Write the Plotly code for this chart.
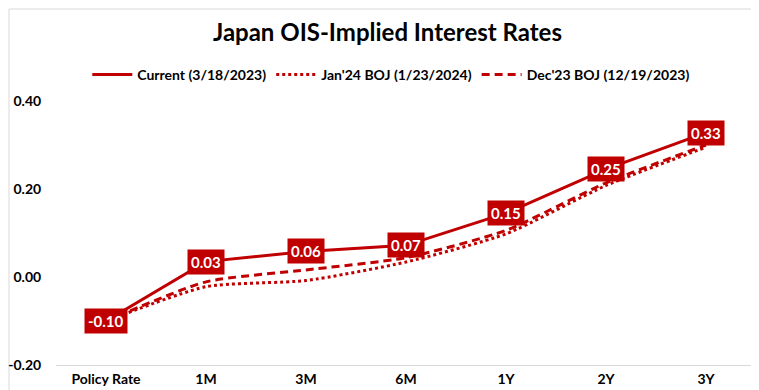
import plotly.graph_objects as go

categories = ["Policy Rate", "1M", "3M", "6M", "1Y", "2Y", "3Y"]
current = [-0.10, 0.035, 0.058, 0.072, 0.145, 0.245, 0.328]
jan24 = [-0.10, -0.022, -0.008, 0.034, 0.098, 0.208, 0.295]
dec23 = [-0.10, -0.011, 0.016, 0.044, 0.106, 0.214, 0.300]
current_labels = ["-0.10", "0.03", "0.06", "0.07", "0.15", "0.25", "0.33"]
y_ticks = [-0.20, 0.00, 0.20, 0.40]

RED = "#C00000"
FONT = "Lato"

W, H = 759, 390
L, R, T, B = 48, 11, 93, 33

fig = go.Figure()
fig.add_trace(go.Scatter(x=categories, y=current, mode="lines", name="<b>Current (3/18/2023)</b>",
                         line=dict(color=RED, width=3)))
fig.add_trace(go.Scatter(x=categories, y=jan24, mode="lines", name="<b>Jan'24 BOJ (1/23/2024)</b>",
                         line=dict(color=RED, width=3, dash="dot", shape="spline", smoothing=0.6)))
fig.add_trace(go.Scatter(x=categories, y=dec23, mode="lines", name="<b>Dec'23 BOJ (12/19/2023)</b>",
                         line=dict(color=RED, width=3, dash="8px,5px", shape="spline", smoothing=0.6)))

for c, v, t in zip(categories, current, current_labels):
    fig.add_annotation(x=c, y=v, xref="x", yref="y", text="<b>" + t + "</b>", showarrow=False,
                       bgcolor=RED, font=dict(color="white", size=15, family=FONT), borderpad=3)

pw = W - L - R
ph = H - T - B
fig.add_shape(type="rect", xref="paper", yref="paper",
              x0=-(L - 1) / pw, x1=1 + (R - 1) / pw, y0=-(B - 1) / ph, y1=1 + (T - 1) / ph,
              line=dict(color="#D9D9D9", width=1), fillcolor="rgba(0,0,0,0)", layer="below")

fig.update_layout(
    width=W, height=H,
    margin=dict(l=L, r=R, t=T, b=B, autoexpand=False),
    paper_bgcolor="white", plot_bgcolor="white",
    font=dict(family=FONT, color="black"),
    title=dict(text="<b>Japan OIS-Implied Interest Rates</b>", x=0.5, xanchor="center",
               y=1 - 25 / H, yanchor="middle", font=dict(size=24, family=FONT, color="black")),
    legend=dict(orientation="h", x=0.479, xanchor="center", y=1 + 26 / ph, yanchor="middle",
                font=dict(size=14, family=FONT, color="black"), itemwidth=40,
                bgcolor="rgba(0,0,0,0)"),
    showlegend=True,
)
fig.update_xaxes(type="category", range=[-0.5, 6.5], showgrid=False, zeroline=False,
                 showline=True, linecolor="#D9D9D9", linewidth=1, automargin=False,
                 ticks="outside", ticklen=1, tickcolor="rgba(0,0,0,0)",
                 tickfont=dict(size=14, family=FONT, color="black"),
                 tickvals=categories, ticktext=["<b>" + c + "</b>" for c in categories])
fig.update_yaxes(range=[-0.20, 0.40], showgrid=False, zeroline=False, showline=False,
                 automargin=False,
                 tickvals=y_ticks, ticktext=["<b>%.2f</b>" % v for v in y_ticks],
                 tickfont=dict(size=14, family=FONT, color="black"),
                 ticks="outside", ticklen=11, tickcolor="rgba(0,0,0,0)")

fig.write_html("out.html")
